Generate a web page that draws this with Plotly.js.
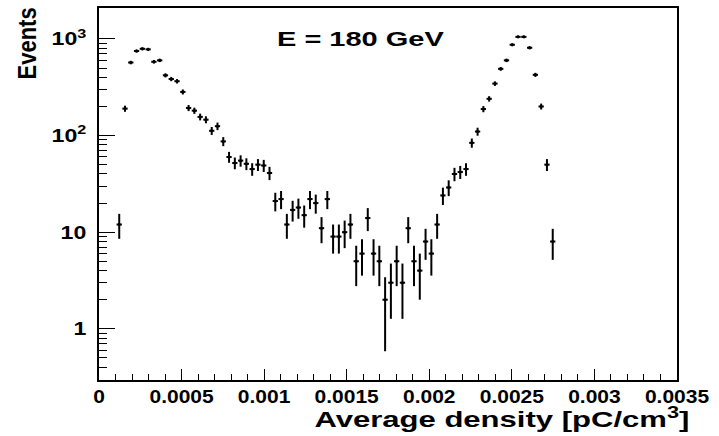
<!DOCTYPE html>
<html>
<head>
<meta charset="utf-8">
<script src="https://cdn.plot.ly/plotly-3.0.1.min.js"></script>
<style>html,body{margin:0;padding:0;background:#fff;}#chart{width:719px;height:436px;}</style>
</head>
<body>
<div id="chart"></div>
<script>
// Histogram bin centres (pC/cm^3), bin width 0.000035
const binCenters = [
  0.0001225, 0.0001575, 0.0001925, 0.0002275, 0.0002625, 0.0002975, 0.0003325, 0.0003675,
  0.0004025, 0.0004375, 0.0004725, 0.0005075, 0.0005425, 0.0005775, 0.0006125, 0.0006475,
  0.0006825, 0.0007175, 0.0007525, 0.0007875, 0.0008225, 0.0008575, 0.0008925, 0.0009275,
  0.0009625, 0.0009975, 0.0010325, 0.0010675, 0.0011025, 0.0011375, 0.0011725, 0.0012075,
  0.0012425, 0.0012775, 0.0013125, 0.0013475, 0.0013825, 0.0014175, 0.0014525, 0.0014875,
  0.0015225, 0.0015575, 0.0015925, 0.0016275, 0.0016625, 0.0016975, 0.0017325, 0.0017675,
  0.0018025, 0.0018375, 0.0018725, 0.0019075, 0.0019425, 0.0019775, 0.0020125, 0.0020475,
  0.0020825, 0.0021175, 0.0021525, 0.0021875, 0.0022225, 0.0022575, 0.0022925, 0.0023275,
  0.0023625, 0.0023975, 0.0024325, 0.0024675, 0.0025025, 0.0025375, 0.0025725, 0.0026075,
  0.0026425, 0.0026775, 0.0027125, 0.0027475
];
// Events per bin
const events = [
  12, 190, 570, 750, 790, 780, 580, 600,
  420, 385, 365, 283, 193, 181, 156, 146,
  112, 125, 87, 60, 52, 55, 51, 45,
  50, 49, 41, 21, 22, 12, 17, 18,
  15, 22, 20, 11, 22, 9, 9, 10,
  12, 5, 6, 14, 6, 5, 2, 3,
  5, 3, 11, 5, 4, 8, 6, 12,
  24, 29, 40, 42, 45, 84, 110, 188,
  240, 345, 490, 600, 870, 1050, 1050, 810,
  425, 200, 50, 8
];
// Poisson (sqrt N) statistical errors, as drawn by the original histogram
const eventErrors = events.map(n => Math.sqrt(n));

const xTickVals = [0, 0.0005, 0.001, 0.0015, 0.002, 0.0025, 0.003, 0.0035];
const xTickText = ['0', '0.0005', '0.001', '0.0015', '0.002', '0.0025', '0.003', '0.0035'];
const yTickVals = [1, 10, 100, 1000];
const yTickText = ['1', '10', '10<sup>2</sup>', '10<sup>3</sup>'];
const titleText = 'E = 180 GeV';
const xTitleText = 'Average density [pC/cm<sup>3</sup>]';
const yTitleText = 'Events';

const yMinor = [];
[0.1, 1, 10, 100].forEach(d => { for (let k = 2; k <= 9; k++) yMinor.push(d * k); });

const FONT = 'Liberation Sans, Arial, Helvetica, sans-serif';

const trace = {
  type: 'scatter',
  mode: 'markers',
  x: binCenters,
  y: events,
  marker: {color: '#000', size: 3, symbol: 'circle'},
  error_y: {type: 'data', array: eventErrors, visible: true, thickness: 2, width: 0, color: '#000'},
  error_x: {type: 'constant', value: 0.000016, visible: true, thickness: 2, width: 0, color: '#000'},
  hoverinfo: 'x+y'
};

const layout = {
  width: 719, height: 436,
  margin: {l: 99, r: 42, t: 8, b: 56},
  paper_bgcolor: '#fff', plot_bgcolor: '#fff',
  showlegend: false,
  xaxis: {
    range: [0, 0.0035],
    tickmode: 'array', tickvals: xTickVals, ticktext: xTickText,
    ticks: 'inside', ticklen: 11, tickwidth: 1, tickcolor: '#000',
    minor: {dtick: 0.0001, tick0: 0, ticks: 'inside', ticklen: 6, tickwidth: 1, tickcolor: '#000', showgrid: false},
    showline: true, mirror: true, linewidth: 2, linecolor: '#000',
    showgrid: false, zeroline: false,
    tickfont: {family: FONT, size: 17.5, color: '#000', weight: 'bold'},
    ticklabelstandoff: 0
  },
  yaxis: {
    type: 'log',
    range: [-0.53, 3.32],
    tickmode: 'array', tickvals: yTickVals, ticktext: yTickText,
    ticks: 'inside', ticklen: 16, tickwidth: 1, tickcolor: '#000',
    minor: {tickmode: 'array', tickvals: yMinor, ticks: 'inside', ticklen: 8, tickwidth: 1, tickcolor: '#000', showgrid: false},
    showline: true, mirror: true, linewidth: 2, linecolor: '#000',
    showgrid: false, zeroline: false,
    tickfont: {family: FONT, size: 18.5, color: '#000', weight: 'bold'},
    ticklabelstandoff: 7
  },
  annotations: [
    {text: titleText, xref: 'paper', yref: 'paper', x: 0.4533, y: 0.9167,
     xanchor: 'center', yanchor: 'middle', showarrow: false,
     font: {family: FONT, size: 20, color: '#000', weight: 'bold'}},
    {text: xTitleText, xref: 'paper', yref: 'paper', x: 0.698, y: -0.103,
     xanchor: 'center', yanchor: 'middle', showarrow: false,
     font: {family: FONT, size: 22.5, color: '#000', weight: 'bold'}},
    {text: yTitleText, xref: 'paper', yref: 'paper', x: -0.1246, y: 0.9046,
     xanchor: 'center', yanchor: 'middle', showarrow: false, textangle: -90,
     font: {family: FONT, size: 22, color: '#000', weight: 'bold'}}
  ]
};

function stretch(el, sx, sy, ax, useAttrX) {
  const b = el.getBBox();
  let cx = b.x + b.width * ax;
  if (useAttrX) cx = parseFloat(el.getAttribute('x')) || 0;
  const cy = b.y + b.height / 2;
  const t = el.getAttribute('transform') || '';
  el.setAttribute('transform', t + ' translate(' + cx + ',' + cy + ') scale(' + sx + ',' + sy + ') translate(' + (-cx) + ',' + (-cy) + ')');
}

Plotly.newPlot('chart', [trace], layout, {displayModeBar: false, staticPlot: true}).then(gd => {
  // The original picture is stretched horizontally; widen the text accordingly.
  gd.querySelectorAll('.xtick text').forEach(el => stretch(el, 1.2, 1, 0.5, false));
  gd.querySelectorAll('.ytick text').forEach(el => stretch(el, 1.25, 1, 1, true));
  const ann = gd.querySelectorAll('.annotation-text');
  if (ann[0]) stretch(ann[0], 1.45, 1, 0.5, false);
  if (ann[1]) stretch(ann[1], 1.38, 1, 0.5, false);
  if (ann[2]) stretch(ann[2], 1, 1.2, 0.5, false);
});
</script>
</body>
</html>
